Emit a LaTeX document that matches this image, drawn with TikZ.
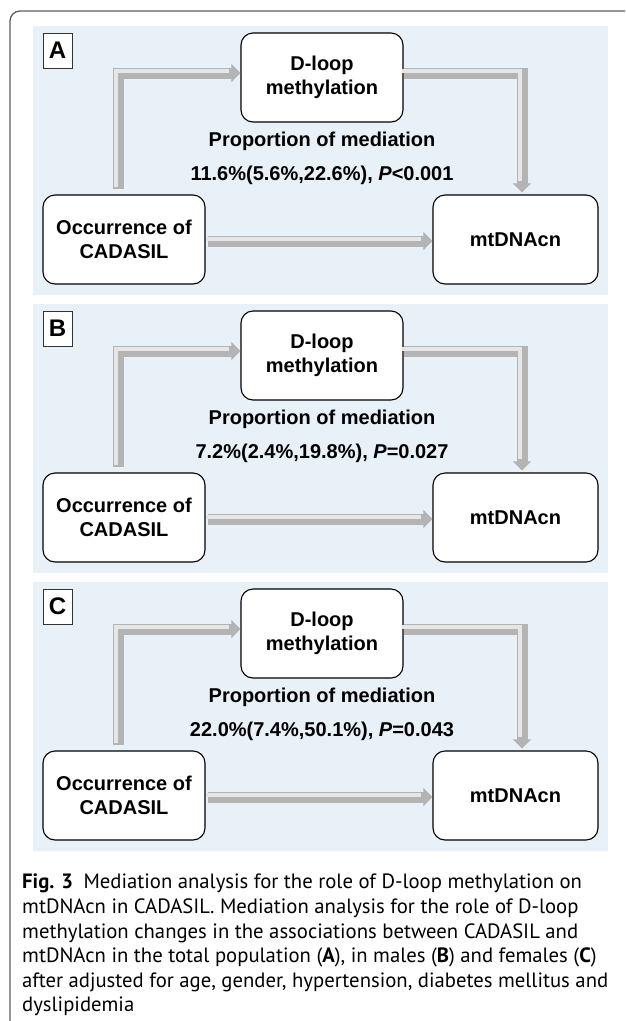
\documentclass[tikz,border=0pt]{standalone}
\usepackage{fontspec}
\setmainfont{Liberation Sans}
\newfontfamily\capfont{PT Sans}
\usetikzlibrary{arrows.meta}
\definecolor{panelblue}{RGB}{232,240,248}
\definecolor{shaftgray}{RGB}{180,180,180}
\definecolor{shinegray}{RGB}{230,230,230}
\definecolor{framegray}{RGB}{90,90,90}

\begin{document}
\begin{tikzpicture}[x=1pt,y=-1pt,
    panel/.style={fill=panelblue,draw=none},
    tag/.style={rectangle,draw=black!80,fill=white,line width=0.8pt,minimum width=29pt,minimum height=35pt,inner sep=0pt,font=\fontsize{24}{24}\selectfont\bfseries},
    box/.style={rectangle,rounded corners=12pt,draw=black,line width=1.1pt,fill=white,minimum height=89pt,align=center,font=\fontsize{20}{24}\selectfont\bfseries},
    note/.style={font=\fontsize{20}{24}\selectfont\bfseries},
    caption/.style={align=left,inner sep=0pt,font=\capfont\fontsize{20.7}{24.6}\selectfont},
    arrow/.style={line width=11pt,draw=shaftgray,-{Triangle[length=9pt,width=18pt,line width=0.6pt,fill=shaftgray]},
      postaction={draw=shinegray,line width=4pt,shorten >=9pt,-,transform canvas={xshift=-2pt,yshift=2pt}}}
  ]
    \useasboundingbox (0,0) rectangle (625,1021);
    \draw[framegray,line width=1.2pt,rounded corners=10pt] (10,1021) -- (10,11) -- (625,11);

    % panel A
    \fill[panel] (33,26) rectangle (608,295);
    \node[tag] (tagA) at (57.5,50.5) {A};
    \node[box,minimum width=162pt] (dloopA) at (322,77.5) {D-loop\\methylation};
    \node[box,minimum width=162pt] (occA) at (124,239.5) {Occurrence of\\CADASIL};
    \node[box,minimum width=165pt] (mtA) at (515.5,239.5) {mtDNAcn};
    \node[note] (propA) at (322,141) {Proportion of mediation};
    \node[note] (valA) at (322,175) {11.6\%(5.6\%,22.6\%), \textit{P}<0.001};
    \draw[arrow] ([xshift=-6pt,yshift=5pt]occA.north) |- ([yshift=4.5pt]dloopA.west);
    \draw[arrow] ([yshift=4.5pt]dloopA.east) -| ([xshift=6.5pt,yshift=2pt]mtA.north);
    \draw[arrow] ([xshift=2pt,yshift=-1.5pt]occA.east) -- ([yshift=-1.5pt]mtA.west);

    % panel B
    \fill[panel] (33,304) rectangle (608,573);
    \node[tag] (tagB) at (57.5,328.5) {B};
    \node[box,minimum width=162pt] (dloopB) at (322,355.5) {D-loop\\methylation};
    \node[box,minimum width=162pt] (occB) at (124,517.5) {Occurrence of\\CADASIL};
    \node[box,minimum width=165pt] (mtB) at (515.5,517.5) {mtDNAcn};
    \node[note] (propB) at (322,419) {Proportion of mediation};
    \node[note] (valB) at (322,453) {7.2\%(2.4\%,19.8\%), \textit{P}=0.027};
    \draw[arrow] ([xshift=-6pt,yshift=5pt]occB.north) |- ([yshift=4.5pt]dloopB.west);
    \draw[arrow] ([yshift=4.5pt]dloopB.east) -| ([xshift=6.5pt,yshift=2pt]mtB.north);
    \draw[arrow] ([xshift=2pt,yshift=-1.5pt]occB.east) -- ([yshift=-1.5pt]mtB.west);

    % panel C
    \fill[panel] (33,582) rectangle (608,851);
    \node[tag] (tagC) at (57.5,606.5) {C};
    \node[box,minimum width=162pt] (dloopC) at (322,633.5) {D-loop\\methylation};
    \node[box,minimum width=162pt] (occC) at (124,795.5) {Occurrence of\\CADASIL};
    \node[box,minimum width=165pt] (mtC) at (515.5,795.5) {mtDNAcn};
    \node[note] (propC) at (322,697) {Proportion of mediation};
    \node[note] (valC) at (322,731) {22.0\%(7.4\%,50.1\%), \textit{P}=0.043};
    \draw[arrow] ([xshift=-6pt,yshift=5pt]occC.north) |- ([yshift=4.5pt]dloopC.west);
    \draw[arrow] ([yshift=4.5pt]dloopC.east) -| ([xshift=6.5pt,yshift=2pt]mtC.north);
    \draw[arrow] ([xshift=2pt,yshift=-1.5pt]occC.east) -- ([yshift=-1.5pt]mtC.west);

    % caption
    \node[caption,anchor=north west] (cap) at (22,874) {\textbf{Fig. 3}\enspace Mediation analysis for the role of D-loop methylation on\\
      mtDNAcn in CADASIL. Mediation analysis for the role of D-loop\\
      methylation changes in the associations between CADASIL and\\
      mtDNAcn in the total population (\textbf{A}), in males (\textbf{B}) and females (\textbf{C})\\
      after adjusted for age, gender, hypertension, diabetes mellitus and\\
      dyslipidemia};
  \end{tikzpicture}
\end{document}
